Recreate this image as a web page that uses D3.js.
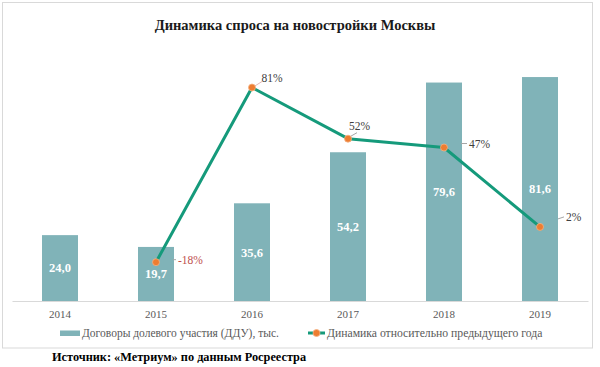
<!DOCTYPE html>
<html>
<head>
<meta charset="utf-8">
<script src="https://cdn.jsdelivr.net/npm/d3@7"></script>
<style>
	body { margin: 0; background: #fff; }
	svg { display: block; }
</style>
</head>
<body>
<div id="chart"></div>
<script>
const years = ["2014", "2015", "2016", "2017", "2018", "2019"]
const dduValues = [24.0, 19.7, 35.6, 54.2, 79.6, 81.6]
const growthYears = ["2015", "2016", "2017", "2018", "2019"]
const growthValues = [-18, 81, 52, 47, 2]

const seriesNames = ["Договоры долевого участия (ДДУ), тыс.", "Динамика относительно предыдущего года"]
const title = "Динамика спроса на новостройки Москвы"
const source = "Источник: «Метриум» по данным Росреестра"

// where each percent label sits relative to its point
const labelPlacement = [
	{dx: 22, dy: -2.5, anchor: "start", lead: [17, -2.5, 20, -2.5], color: "#c0504d"},
	{dx: 20, dy: -10, anchor: "middle", lead: [2, -1, 10, -6], color: "#404040"},
	{dx: 11.5, dy: -13, anchor: "middle", lead: [2, -2, 9, -6], color: "#404040"},
	{dx: 25, dy: -4, anchor: "start", lead: [17, -4, 23, -4], color: "#404040"},
	{dx: 26, dy: -10, anchor: "start", lead: [18, -8, 24, -10], color: "#404040"}
]

const width = 600, height = 367
const barColor = "#80b3b8", lineColor = "#159a7b", markerColor = "#ed7d31"
const font = "'Liberation Serif', 'Times New Roman', 'DejaVu Serif', serif"

const svg = d3.select("#chart").append("svg")
	.attr("width", width)
	.attr("height", height)
	.attr("font-family", font)

svg.append("rect")
	.attr("x", 2.5).attr("y", 2.5)
	.attr("width", 590).attr("height", 345.5)
	.attr("fill", "#fff")
	.attr("stroke", "#d9d9d9")

svg.append("text")
	.attr("x", 295).attr("y", 25)
	.attr("dy", "0.35em")
	.attr("text-anchor", "middle")
	.style("font-size", "14.5px")
	.style("font-weight", "bold")
	.attr("fill", "#1a1a1a")
	.text(title)

const x = d3.scaleBand()
	.domain(years)
	.range([12, 588])
	.paddingInner(0.625)
	.paddingOuter(0.3125)

const y = d3.scaleLinear().domain([0, 90]).range([301, 54])
const y2 = d3.scaleLinear().domain([-40, 100]).range([301, 54])

// bars
svg.selectAll("rect.bar")
	.data(years)
	.enter()
	.append("rect")
	.attr("class", "bar")
	.attr("x", d => x(d))
	.attr("y", (d, i) => y(dduValues[i]))
	.attr("width", x.bandwidth())
	.attr("height", (d, i) => y(0) - y(dduValues[i]))
	.attr("fill", barColor)

svg.selectAll("text.barlabel")
	.data(years)
	.enter()
	.append("text")
	.attr("class", "barlabel")
	.attr("x", d => x(d) + x.bandwidth() / 2)
	.attr("y", (d, i) => (y(0) + y(dduValues[i])) / 2)
	.attr("dy", "0.35em")
	.attr("text-anchor", "middle")
	.style("font-size", "12.5px")
	.style("font-weight", "bold")
	.attr("fill", "#fff")
	.text((d, i) => d3.format(".1f")(dduValues[i]).replace(".", ","))

// x axis
const xAxis = svg.append("g")
	.attr("transform", `translate(0,${y(0)})`)
	.call(d3.axisBottom(x).tickSize(0).tickPadding(9))

xAxis.attr("font-family", font)
xAxis.select(".domain").attr("stroke", "#d9d9d9")
xAxis.selectAll("text")
	.style("font-size", "11px")
	.attr("fill", "#595959")

// line
const cx = d => x(d) + x.bandwidth() / 2
const lineFunction = d3.line()
	.x(d => cx(d))
	.y((d, i) => y2(growthValues[i]))

svg.append("path")
	.attr("d", lineFunction(growthYears))
	.attr("fill", "none")
	.attr("stroke", lineColor)
	.attr("stroke-width", 3)
	.attr("stroke-linejoin", "round")

growthYears.forEach((yr, i) => {
	const px = cx(yr), py = y2(growthValues[i])
	const p = labelPlacement[i]
	svg.append("line")
		.attr("x1", px + p.lead[0]).attr("y1", py + p.lead[1])
		.attr("x2", px + p.lead[2]).attr("y2", py + p.lead[3])
		.attr("stroke", i == 1 ? "#e3b8b8" : "#a6a6a6")
		.attr("stroke-width", 1)
	svg.append("text")
		.attr("x", px + p.dx).attr("y", py + p.dy)
		.attr("dy", "0.35em")
		.attr("text-anchor", p.anchor)
		.style("font-size", "11.5px")
		.attr("fill", p.color)
		.text(growthValues[i] + "%")
})

svg.selectAll("circle.marker")
	.data(growthYears)
	.enter()
	.append("circle")
	.attr("class", "marker")
	.attr("cx", d => cx(d))
	.attr("cy", (d, i) => y2(growthValues[i]))
	.attr("r", 3.5)
	.attr("fill", markerColor)
	.attr("stroke", "#f4b183")
	.attr("stroke-width", 0.8)

// legend
const legend = svg.append("g")
legend.append("rect")
	.attr("x", 60).attr("y", 330.5)
	.attr("width", 20).attr("height", 5.5)
	.attr("fill", barColor)
legend.append("text")
	.attr("x", 82).attr("y", 333)
	.attr("dy", "0.35em")
	.style("font-size", "11.5px")
	.attr("fill", "#595959")
	.text(seriesNames[0])
legend.append("line")
	.attr("x1", 308).attr("x2", 325)
	.attr("y1", 333).attr("y2", 333)
	.attr("stroke", lineColor)
	.attr("stroke-width", 3)
legend.append("circle")
	.attr("cx", 316.5).attr("cy", 333)
	.attr("r", 3.5)
	.attr("fill", markerColor)
	.attr("stroke", "#f4b183")
	.attr("stroke-width", 0.8)
legend.append("text")
	.attr("x", 327).attr("y", 333)
	.attr("dy", "0.35em")
	.style("font-size", "11.7px")
	.attr("fill", "#595959")
	.text(seriesNames[1])

svg.append("text")
	.attr("x", 52).attr("y", 357)
	.attr("dy", "0.35em")
	.style("font-size", "12.3px")
	.style("font-weight", "bold")
	.attr("fill", "#000")
	.text(source)
</script>
</body>
</html>
